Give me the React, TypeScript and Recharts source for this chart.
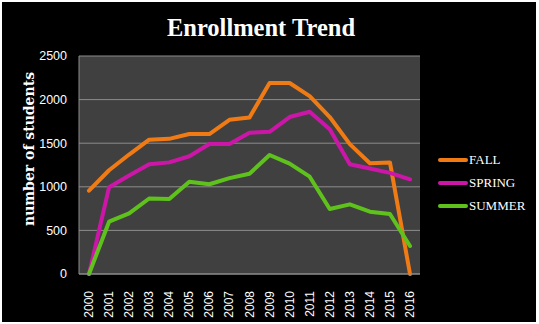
import React from "react";
import { LineChart, Line, XAxis, YAxis, CartesianGrid } from "recharts";

const years = ["2000","2001","2002","2003","2004","2005","2006","2007","2008","2009","2010","2011","2012","2013","2014","2015","2016"];
const fall = [955, 1190, 1370, 1540, 1550, 1605, 1605, 1768, 1795, 2190, 2190, 2040, 1800, 1490, 1270, 1280, 0];
const spring = [0, 994, 1130, 1258, 1280, 1350, 1490, 1490, 1620, 1630, 1800, 1860, 1659, 1258, 1210, 1160, 1086];
const summer = [0, 600, 696, 866, 860, 1059, 1029, 1100, 1150, 1365, 1265, 1116, 745, 799, 715, 688, 321];
const yTicks = [0, 500, 1000, 1500, 2000, 2500];

const seriesNames = ["FALL", "SPRING", "SUMMER"];
const seriesColors = ["#f07b14", "#cc16a8", "#5fc21c"];

const data = years.map((y, i) => ({ year: y, FALL: fall[i], SPRING: spring[i], SUMMER: summer[i] }));

const XTick = (props: any) => {
  const { x, y, payload } = props;
  return (
    <text
      x={0}
      y={0}
      transform={`translate(${x + 4},${y + 9}) rotate(-90)`}
      textAnchor="end"
      fill="#ffffff"
      fontSize={12}
      fontFamily="Liberation Sans, Arial, sans-serif"
    >
      {payload.value}
    </text>
  );
};

export default function App() {
  return (
    <div style={{ position: "fixed", left: 0, top: 0, width: 539, height: 324, background: "#ffffff" }}>
      <div style={{ position: "absolute", left: 2, top: 2, width: 534, height: 320, background: "#000000" }} />
      <div style={{ position: "absolute", left: 0, top: 0 }}>
        <LineChart width={539} height={324} data={data} margin={{ top: 56, right: 119, left: 0, bottom: 0 }}>
          <text x={261} y={36} textAnchor="middle" fill="#ffffff" fontSize={24.5} fontWeight="bold" fontFamily="Liberation Serif, serif">
            Enrollment Trend
          </text>
          <text
            x={0}
            y={0}
            transform="translate(34,149) rotate(-90)"
            textAnchor="middle"
            fill="#ffffff"
            fontSize={14}
            fontWeight="bold"
            fontFamily="DejaVu Serif, serif"
          >
            number of students
          </text>
          <CartesianGrid vertical={false} fill="#404040" stroke="#8c8c8c" strokeWidth={1} />
          <XAxis
            dataKey="year"
            height={50}
            interval={0}
            padding={{ left: 10, right: 10 }}
            tickLine={false}
            axisLine={{ stroke: "#8c8c8c" }}
            tick={<XTick />}
          />
          <YAxis
            width={79}
            domain={[0, 2500]}
            ticks={yTicks}
            interval={0}
            tickLine={false}
            axisLine={{ stroke: "#8c8c8c" }}
            tickMargin={6}
            tick={{ fill: "#ffffff", fontSize: 12.5, fontFamily: "Liberation Sans, Arial, sans-serif" }}
          />
          {seriesNames.map((name, i) => (
            <Line
              key={name}
              type="linear"
              dataKey={name}
              stroke={seriesColors[i]}
              strokeWidth={4}
              dot={false}
              activeDot={false}
              isAnimationActive={false}
              strokeLinejoin="round"
              strokeLinecap="round"
            />
          ))}
        </LineChart>
      </div>
      <div style={{ position: "absolute", left: 438, top: 148 }}>
        {seriesNames.map((name, i) => (
          <div key={name} style={{ display: "flex", alignItems: "center", height: 23 }}>
            <div style={{ width: 30, height: 4, borderRadius: 2, background: seriesColors[i] }} />
            <span style={{ color: "#ffffff", fontSize: 13, fontFamily: "Liberation Serif, serif", marginLeft: 1 }}>{name}</span>
          </div>
        ))}
      </div>
    </div>
  );
}
